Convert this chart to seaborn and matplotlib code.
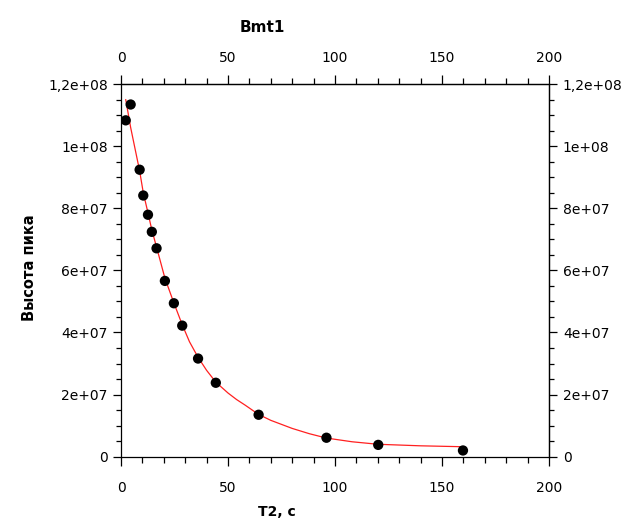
import matplotlib
matplotlib.use("Agg")
import matplotlib.pyplot as plt
from matplotlib.ticker import FixedLocator, MultipleLocator, FixedFormatter
import seaborn as sns
import pandas as pd

# Measured points
t2 = [2.2, 4.5, 8.7, 10.4, 12.6, 14.4, 16.6, 20.5, 24.7, 28.6, 36.0, 44.3, 64.3, 96.0, 120.2, 159.8]
height = [108.3e6, 113.4e6, 92.4e6, 84.1e6, 77.9e6, 72.4e6, 67.1e6, 56.6e6, 49.4e6, 42.2e6,
          31.6e6, 23.8e6, 13.5e6, 6.1e6, 3.8e6, 2.0e6]

# Fitted curve
fit_x = [2.2, 4.5, 8.7, 10.4, 12.6, 14.4, 16.6, 20.5, 24.7, 28.6, 32.0, 36.0, 40.0, 44.3, 50.0,
         54.0, 58.0, 64.3, 70.0, 80.0, 88.0, 96.0, 108.0, 120.0, 140.0, 160.0]
fit_y = [115e6, 106e6, 92e6, 85e6, 78.5e6, 73e6, 67.5e6, 57.5e6, 49.5e6, 42.5e6, 37e6,
         32e6, 27.8e6, 24e6, 20.5e6, 18.4e6, 16.6e6, 13.6e6, 11.7e6, 9.1e6, 7.4e6, 6.0e6,
         4.8e6, 4.0e6, 3.5e6, 3.2e6]

y_ticks = [0, 2e7, 4e7, 6e7, 8e7, 1e8, 1.2e8]
y_tick_labels = ["0", "2e+07", "4e+07", "6e+07", "8e+07", "1e+08", "1,2e+08"]
x_ticks = [0, 50, 100, 150, 200]

title = "Bmt1"
xlabel = "T2, c"
ylabel = "Высота пика"

sns.set_style("ticks")
plt.rcParams['font.family'] = ['DejaVu Sans']
plt.rcParams['text.color'] = 'black'
plt.rcParams['axes.labelcolor'] = 'black'
plt.rcParams['xtick.color'] = 'black'
plt.rcParams['ytick.color'] = 'black'

fig = plt.figure(figsize=(6.29, 5.29), dpi=100)
ax = fig.add_axes([0.1924, 0.1367, 0.8728 - 0.1924, 0.8412 - 0.1367])

pts = pd.DataFrame({"x": t2, "y": height})
fit = pd.DataFrame({"x": fit_x, "y": fit_y})

sns.lineplot(data=fit, x="x", y="y", ax=ax, color="#ff2020", linewidth=0.9, sort=False, zorder=2)
sns.scatterplot(data=pts, x="x", y="y", ax=ax, color="black", s=55, edgecolor="none", zorder=3)

ax.set_xlim(0, 200)
ax.set_ylim(0, 1.2e8)
ax.set_xlabel("")
ax.set_ylabel("")

tick_font = 10
for spine in ax.spines.values():
    spine.set_visible(True)
    spine.set_linewidth(0.9)
    spine.set_color("black")

def style_x(a, pad):
    a.xaxis.set_major_locator(FixedLocator(x_ticks))
    a.xaxis.set_minor_locator(MultipleLocator(10))
    a.tick_params(axis="x", which="major", length=6.5, width=0.9, direction="out",
                  labelsize=tick_font, pad=pad, colors="black")
    a.tick_params(axis="x", which="minor", length=4, width=0.9, direction="out", colors="black")

def style_y(a, pad):
    a.yaxis.set_major_locator(FixedLocator(y_ticks))
    a.yaxis.set_major_formatter(FixedFormatter(y_tick_labels))
    a.yaxis.set_minor_locator(MultipleLocator(5e6))
    a.tick_params(axis="y", which="major", length=6, width=0.9, direction="out",
                  labelsize=tick_font, pad=pad, colors="black")
    a.tick_params(axis="y", which="minor", length=3.5, width=0.9, direction="out", colors="black")

style_x(ax, 11)
style_y(ax, 3.5)

top = ax.secondary_xaxis("top")
style_x(top, 7)
top.spines["top"].set_linewidth(0.9)
right = ax.secondary_yaxis("right")
style_y(right, 4)
right.spines["right"].set_linewidth(0.9)

fig.text(262 / 629, 1 - 28 / 529, title, ha="center", va="center", fontsize=11, fontweight="bold")
fig.text(277 / 629, 1 - 512 / 529, xlabel, ha="center", va="center", fontsize=10, fontweight="bold")
fig.text(29 / 629, 1 - 268 / 529, ylabel, ha="center", va="center", rotation=90,
         fontsize=10.5, fontweight="bold")

fig.savefig("out.png", dpi=100)
